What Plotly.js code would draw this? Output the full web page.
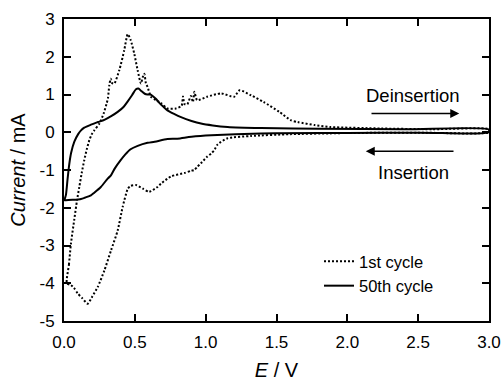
<!DOCTYPE html>
<html>
<head>
<meta charset="utf-8">
<script src="https://cdn.plot.ly/plotly-3.0.1.min.js"></script>
<style>html,body{margin:0;padding:0;background:#fff;}#chart{width:503px;height:381px;}</style>
</head>
<body>
<div id="chart"></div>
<script>
// 1st cycle (dotted): anodic 0 -> 3 V, then cathodic 3 -> 0 V
const cycle1E = [0.02,0.035,0.049,0.073,0.092,0.108,0.125,0.143,0.16,0.179,0.195,0.214,0.25,0.28,0.30,0.31,0.32,0.33,0.34,0.355,0.39,0.425,0.45,0.47,0.496,0.52,0.543,0.555,0.567,0.578,0.59,0.614,0.65,0.685,0.73,0.79,0.83,0.84,0.85,0.87,0.896,0.91,0.92,0.94,1.01,1.11,1.20,1.24,1.32,1.41,1.52,1.60,1.65,1.77,1.88,2.24,2.6,3.0,
  3.0,2.5,2.0,1.88,1.6,1.32,1.155,1.085,1.06,1.04,1.01,0.967,0.94,0.92,0.896,0.85,0.755,0.685,0.66,0.614,0.60,0.56,0.508,0.47,0.45,0.414,0.379,0.332,0.285,0.238,0.2,0.167,0.13,0.097,0.07,0.049,0.02];
const cycle1I = [-4.0,-3.5,-2.95,-2.3,-1.8,-1.45,-1.08,-0.74,-0.46,-0.21,-0.06,0.05,0.23,0.5,0.75,0.9,1.25,1.42,1.3,1.29,1.64,2.17,2.6,2.45,2.08,1.64,1.29,1.45,1.55,1.3,1.2,0.94,0.85,0.77,0.63,0.63,0.7,0.95,0.75,0.74,0.96,0.8,1.07,0.85,0.94,1.03,0.94,1.11,0.98,0.80,0.54,0.32,0.27,0.19,0.14,0.1,0.08,0.08,
  0.0,-0.01,-0.02,-0.03,-0.05,-0.1,-0.16,-0.32,-0.48,-0.56,-0.65,-0.82,-0.92,-1.0,-1.02,-1.08,-1.17,-1.36,-1.45,-1.56,-1.58,-1.5,-1.40,-1.42,-1.5,-1.98,-2.6,-3.13,-3.66,-4.1,-4.35,-4.54,-4.4,-4.27,-4.12,-4.05,-4.0];

// 50th cycle (solid)
const cycle50E = [0.005,0.014,0.025,0.037,0.05,0.073,0.1,0.12,0.143,0.19,0.24,0.285,0.33,0.379,0.42,0.45,0.48,0.508,0.525,0.543,0.57,0.59,0.61,0.626,0.65,0.673,0.70,0.73,0.78,0.826,0.9,0.967,1.05,1.155,1.39,1.8,2.4,3.0,
  3.0,2.5,2.0,1.39,1.04,0.9,0.80,0.73,0.64,0.59,0.52,0.47,0.43,0.40,0.36,0.33,0.31,0.26,0.214,0.19,0.15,0.12,0.097,0.06,0.014,0.005];
const cycle50I = [-1.8,-1.65,-1.25,-0.85,-0.55,-0.25,-0.05,0.05,0.12,0.2,0.27,0.33,0.42,0.54,0.67,0.82,0.98,1.14,1.16,1.1,1.02,1.0,1.0,0.96,0.88,0.78,0.68,0.58,0.48,0.40,0.3,0.23,0.18,0.14,0.11,0.09,0.08,0.07,
  0.0,-0.01,-0.02,-0.03,-0.08,-0.12,-0.17,-0.18,-0.25,-0.28,-0.36,-0.45,-0.6,-0.74,-0.95,-1.15,-1.22,-1.45,-1.6,-1.67,-1.73,-1.77,-1.78,-1.79,-1.8,-1.8];

const seriesNames = ["1st cycle", "50th cycle"];
const xTickVals = [0, 0.5, 1.0, 1.5, 2.0, 2.5, 3.0];
const xTickText = ["0.0","0.5","1.0","1.5","2.0","2.5","3.0"];
const yTickVals = [3, 2, 1, 0, -1, -2, -3, -4, -5];
const yTickText = ["3","2","1","0","-1","-2","-3","-4","-5"];

const FONT = "Liberation Sans, Arial, sans-serif";

const traces = [
  {x: cycle1E, y: cycle1I, name: seriesNames[0], mode: "lines",
   line: {color: "#000", width: 2, dash: "2px,2px", shape: "spline", smoothing: 0.6}},
  {x: cycle50E, y: cycle50I, name: seriesNames[1], mode: "lines",
   line: {color: "#000", width: 2, shape: "spline", smoothing: 0.8}}
];

const axisCommon = {
  showline: true, linecolor: "#000", linewidth: 2, mirror: "allticks",
  ticks: "inside", ticklen: 7, tickwidth: 2, tickcolor: "#000",
  showgrid: false, zeroline: false,
  tickfont: {family: FONT, size: 17, color: "#000"}
};

const layout = {
  width: 503, height: 381,
  margin: {l: 64, r: 14, t: 19, b: 60},
  paper_bgcolor: "#fff", plot_bgcolor: "#fff",
  showlegend: true,
  legend: {x: 0.6, y: 0.255, xanchor: "left", yanchor: "top", bgcolor: "rgba(0,0,0,0)",
           font: {family: FONT, size: 16.5, color: "#000"}, tracegroupgap: 0, itemwidth: 30},
  xaxis: Object.assign({}, axisCommon, {
    range: [0, 3], tickmode: "array", tickvals: xTickVals, ticktext: xTickText,
    ticklabelstandoff: 5,
    title: {text: "<i>E</i> / V", font: {family: FONT, size: 20, color: "#000"}, standoff: 14}
  }),
  yaxis: Object.assign({}, axisCommon, {
    range: [-5, 3], tickmode: "array", tickvals: yTickVals, ticktext: yTickText,
    ticklabelstandoff: 4,
    title: {text: "<i>Current</i> / mA", font: {family: FONT, size: 20, color: "#000"}, standoff: 8}
  }),
  annotations: [
    {x: 2.46, y: 0.98, xref: "x", yref: "y", text: "Deinsertion", showarrow: false,
     font: {family: FONT, size: 18.5, color: "#000"}},
    {x: 2.47, y: -1.06, xref: "x", yref: "y", text: "Insertion", showarrow: false,
     font: {family: FONT, size: 18.5, color: "#000"}},
    {x: 2.79, y: 0.5, ax: 2.16, ay: 0.5, xref: "x", yref: "y", axref: "x", ayref: "y",
     text: "", showarrow: true, arrowhead: 2, arrowsize: 1.2, arrowwidth: 1.5, arrowcolor: "#000"},
    {x: 2.13, y: -0.5, ax: 2.76, ay: -0.5, xref: "x", yref: "y", axref: "x", ayref: "y",
     text: "", showarrow: true, arrowhead: 2, arrowsize: 1.2, arrowwidth: 1.5, arrowcolor: "#000"}
  ]
};

Plotly.newPlot("chart", traces, layout, {displayModeBar: false, staticPlot: true});
</script>
</body>
</html>
